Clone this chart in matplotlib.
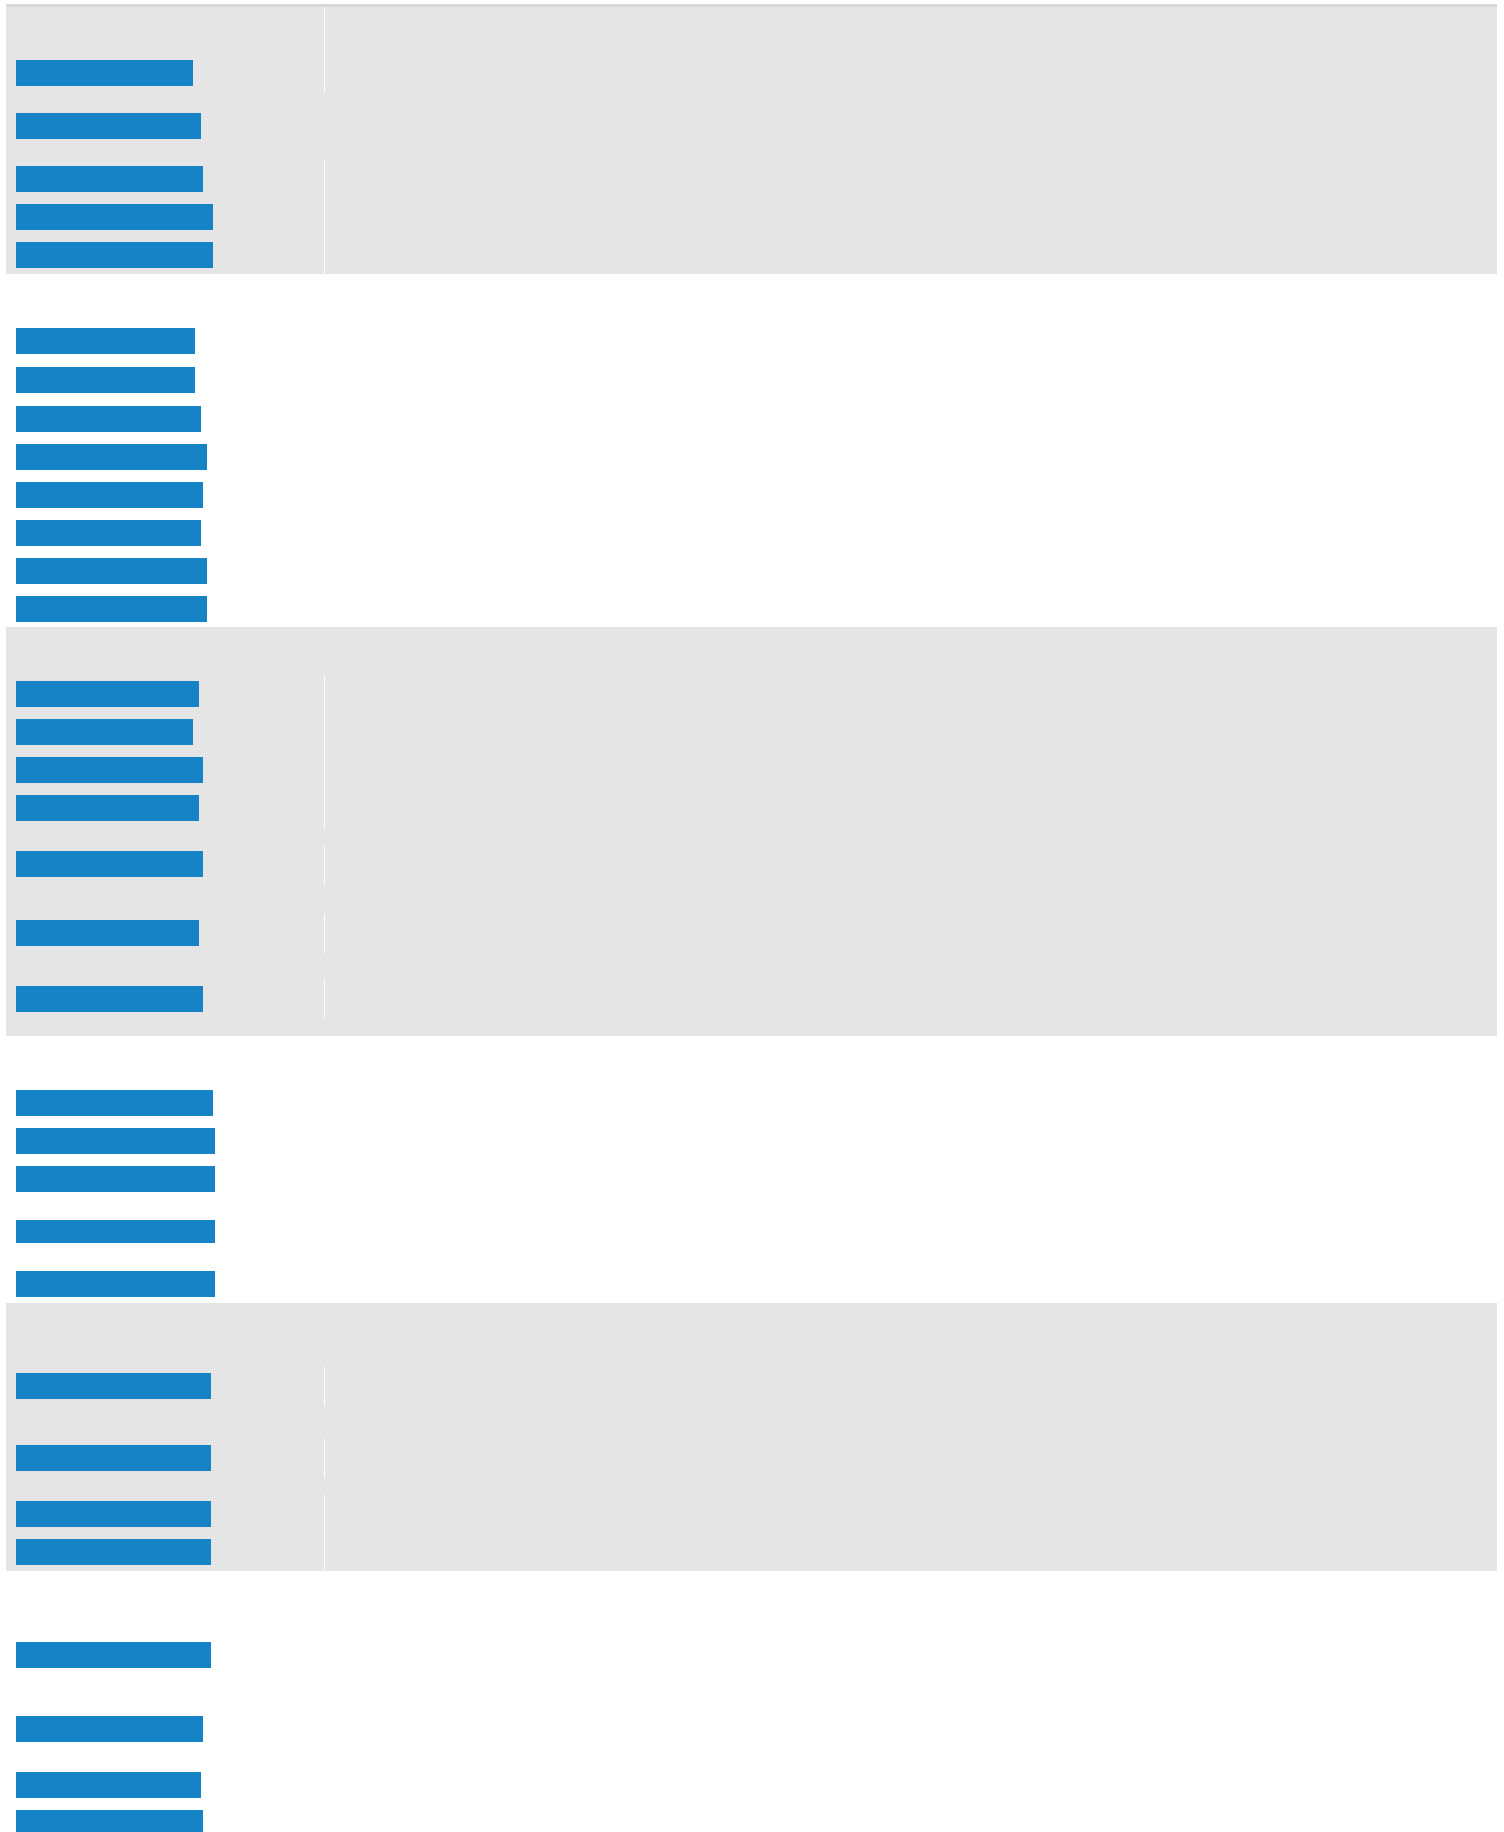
import matplotlib
matplotlib.use("Agg")
import matplotlib.pyplot as plt
import numpy as np

# ---------------- data ----------------
# six groups of bars (group labels are not shown in the chart)
group_sizes = [5, 8, 7, 5, 4, 4]
values = [
    57.4, 60.0, 60.6, 63.9, 63.9,                       # group 1
    58.0, 58.0, 60.0, 61.9, 60.6, 60.0, 61.9, 61.9,     # group 2
    59.3, 57.4, 60.6, 59.3, 60.6, 59.3, 60.6,           # group 3
    63.9, 64.5, 64.5, 64.5, 64.5,                       # group 4
    63.2, 63.2, 63.2, 63.2,                             # group 5
    63.2, 60.6, 60.0, 60.6,                             # group 6
]
grid_value = 100.0

# ---------------- layout (pixels) ----------------
# each group: list of items (kind, height, gridline shown)
layout = [
    [("gap", 47, True), ("bar", 38, True), ("bar", 68, False), ("bar", 38, True),
     ("bar", 38, True), ("bar", 38, True)],
    [("gap", 48, False)] + [("bar", h, False) for h in (38, 40, 38, 38, 38, 38, 38, 37)],
    [("gap", 48, False), ("bar", 38, True), ("bar", 38, True), ("bar", 38, True),
     ("bar", 38, True), ("gap", 18, False), ("bar", 38, True), ("gap", 31, False),
     ("bar", 38, True), ("gap", 28, False), ("bar", 38, True), ("gap", 18, False)],
    [("gap", 48, False), ("bar", 38, False), ("bar", 38, False), ("bar", 38, False),
     ("gap", 14, False), ("bar", 38, False), ("gap", 15, False), ("bar", 38, False)],
    [("gap", 64, False), ("bar", 38, True), ("gap", 34, False), ("bar", 38, True),
     ("gap", 18, False), ("bar", 38, True), ("bar", 38, True)],
    [("gap", 65, False), ("bar", 38, False), ("gap", 36, False), ("bar", 38, False),
     ("gap", 18, False), ("bar", 38, False), ("bar", 38, False)],
]
band_shaded = [True, False, True, False, True, False]
bar_heights = [26] * len(values)
bar_heights[23] = 23

W, H = 1504, 1832
top_y = 7
x0_px = 16
px_per_unit = 308.3 / grid_value
band_x0, band_x1 = 6, 1497

BAR_COLOR = "#1683c6"
BAND_COLOR = "#e5e5e5"
TOP_LINE = "#d8d8d8"

fig = plt.figure(figsize=(W / 100, H / 100), dpi=100)
ax = fig.add_axes([0, 0, 1, 1])
ax.set_xlim(-x0_px / px_per_unit, (W - x0_px) / px_per_unit)
ax.set_ylim(H, 0)
ax.axis("off")

# top rule
ax.axhspan(4, top_y, xmin=band_x0 / W, xmax=band_x1 / W, color=TOP_LINE, lw=0, zorder=0)

y = top_y
centers = []
grid_segments = []
for g, items in enumerate(layout):
    start = y
    for kind, h, line in items:
        if kind == "bar":
            centers.append(y + h / 2)
        if line:
            grid_segments.append((y, y + h))
        y += h
    if band_shaded[g]:
        ax.axhspan(start, y, xmin=band_x0 / W, xmax=band_x1 / W,
                   color=BAND_COLOR, lw=0, zorder=0)

# merge contiguous gridline segments
merged = []
for a, b in grid_segments:
    if merged and abs(merged[-1][1] - a) < 1e-6:
        merged[-1] = (merged[-1][0], b)
    else:
        merged.append((a, b))
for a, b in merged:
    ax.vlines(grid_value, a, b, color="white", lw=0.7, zorder=1, antialiased=False)

ax.barh(centers, values, height=bar_heights, left=0, color=BAR_COLOR,
        edgecolor="none", zorder=2)

fig.savefig("out.png", dpi=100, facecolor="white")
